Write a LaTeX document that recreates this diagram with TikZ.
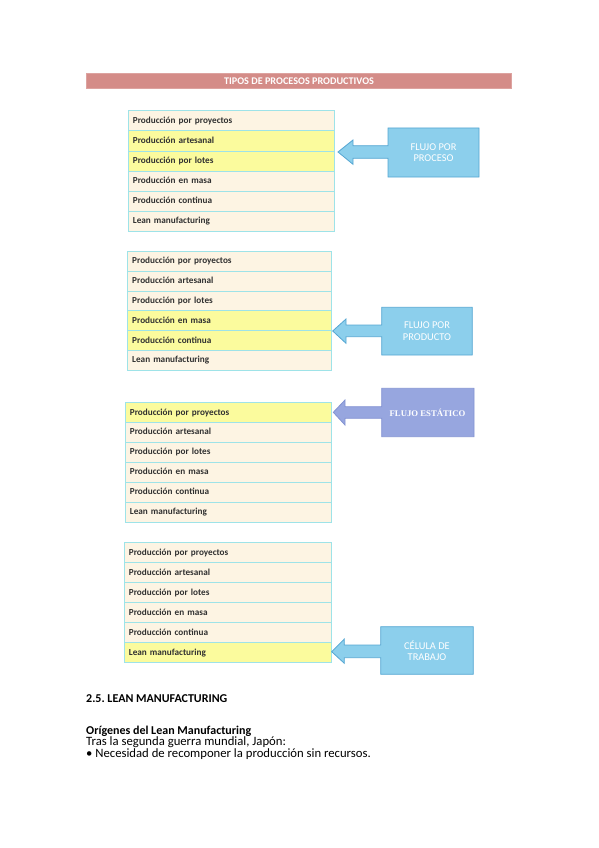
\documentclass[tikz,border=0pt]{standalone}
\usepackage{fontspec}
\setmainfont{Carlito}
\newfontfamily\serifbold{Liberation Serif}
\frenchspacing
\definecolor{cream}{HTML}{FDF4E3}
\definecolor{hl}{HTML}{FBFB9D}
\definecolor{cellline}{HTML}{9EE3E8}
\definecolor{txtgray}{HTML}{303030}
\definecolor{titlebar}{HTML}{D48C88}
\definecolor{skyfill}{HTML}{8CCFEC}
\definecolor{skyline}{HTML}{55A6D2}
\definecolor{lavfill}{HTML}{97A6DF}
\definecolor{lavline}{HTML}{8393D2}
\tikzset{
  rowcell/.style={draw=cellline, line width=0.8pt, fill=cream, anchor=north west,
    minimum height=20pt, inner xsep=4.5pt, inner ysep=0pt, text width=#1,
    text height=6.5pt, text depth=1.9pt, align=left, text=txtgray,
    font=\fontsize{9.2}{11}\selectfont\bfseries},
  hlcell/.style={rowcell=#1, fill=hl},
  callout/.style={fill=skyfill, draw=skyline, line width=0.8pt, line join=miter},
  callouttext/.style={text=white, align=center, font=\fontsize{10.4}{11.6}\selectfont, inner sep=0pt},
  bodytext/.style={anchor=base west, inner sep=0pt, text=black, font=\fontsize{12.7}{12}\selectfont},
  bodyhead/.style={bodytext, font=\fontsize{12}{12}\selectfont\bfseries}
}
\begin{document}
\begin{tikzpicture}[x=1pt,y=-1pt]
\useasboundingbox (0,0) rectangle (599,848);
% title bar
\node[fill=titlebar, draw=titlebar!80!white, line width=0.5pt, minimum width=425pt, minimum height=15pt, inner sep=0pt, anchor=north west,
  text=white, font=\fontsize{10.2}{11}\selectfont\bfseries] (title) at (86.3,73.5) {TIPOS DE PROCESOS PRODUCTIVOS};

% ---------- table 1 ----------
\node[rowcell=197pt] (a1) at (128,110.5) {Producción por proyectos};
\node[hlcell=197pt]  (a2) at (128,130.5) {Producción artesanal};
\node[hlcell=197pt]  (a3) at (128,150.5) {Producción por lotes};
\node[rowcell=197pt] (a4) at (128,170.5) {Producción en masa};
\node[rowcell=197pt] (a5) at (128,190.5) {Producción continua};
\node[rowcell=197pt] (a6) at (128,210.5) {Lean manufacturing};
\draw[callout] (479,128) -- (388,128) -- (388,145.7) -- (353,145.7) -- (353,140) -- (338,152)
  -- (353,164.3) -- (353,158.3) -- (388,158.3) -- (388,177) -- (479,177) -- cycle;
\node[callouttext] (c1) at (433.5,152.5) {FLUJO POR\\PROCESO};

% ---------- table 2 ----------
\node[rowcell=194.4pt] (b1) at (127.3,250.7) {Producción por proyectos};
\node[rowcell=194.4pt] (b2) at (127.3,270.6) {Producción artesanal};
\node[rowcell=194.4pt] (b3) at (127.3,290.5) {Producción por lotes};
\node[hlcell=194.4pt]  (b4) at (127.3,310.4) {Producción en masa};
\node[hlcell=194.4pt]  (b5) at (127.3,330.3) {Producción continua};
\node[rowcell=194.4pt] (b6) at (127.3,350.2) {Lean manufacturing};
\draw[callout] (472.3,307.3) -- (381.7,307.3) -- (381.7,325) -- (346,325) -- (346,319) -- (332.7,331)
  -- (346,343.3) -- (346,336.7) -- (381.7,336.7) -- (381.7,355) -- (472.3,355) -- cycle;
\node[callouttext] (c2) at (427,331.2) {FLUJO POR\\PRODUCTO};

% ---------- table 3 ----------
\node[hlcell=197pt]  (d1) at (125,402.3) {Producción por proyectos};
\node[rowcell=197pt] (d2) at (125,422.2) {Producción artesanal};
\node[rowcell=197pt] (d3) at (125,442.1) {Producción por lotes};
\node[rowcell=197pt] (d4) at (125,462.0) {Producción en masa};
\node[rowcell=197pt] (d5) at (125,481.9) {Producción continua};
\node[rowcell=197pt] (d6) at (125,501.8) {Lean manufacturing};
\draw[callout, fill=lavfill, draw=lavline] (474,388.3) -- (381.7,388.3) -- (381.7,406.7) -- (345,406.7) -- (345,400) -- (333.3,412.3)
  -- (345,425) -- (345,418.3) -- (381.7,418.3) -- (381.7,436.7) -- (474,436.7) -- cycle;
\node[callouttext, font=\serifbold\fontsize{8.7}{10}\selectfont\bfseries] (c3) at (427.5,412.5) {FLUJO ESTÁTICO};

% ---------- table 4 ----------
\node[rowcell=198pt] (e1) at (124,542.3) {Producción por proyectos};
\node[rowcell=198pt] (e2) at (124,562.3) {Producción artesanal};
\node[rowcell=198pt] (e3) at (124,582.3) {Producción por lotes};
\node[rowcell=198pt] (e4) at (124,602.3) {Producción en masa};
\node[rowcell=198pt] (e5) at (124,622.3) {Producción continua};
\node[hlcell=198pt]  (e6) at (124,642.3) {Lean manufacturing};
\draw[callout] (473.3,626.7) -- (380.7,626.7) -- (380.7,645) -- (344.3,645) -- (344.3,639) -- (331.7,651.7)
  -- (344.3,663.3) -- (344.3,657.7) -- (380.7,657.7) -- (380.7,674.3) -- (473.3,674.3) -- cycle;
\node[callouttext] (c4) at (427,650.8) {CÉLULA DE\\TRABAJO};

% ---------- body text ----------
\node[bodyhead] (h1) at (86,702.7) {2.5. LEAN MANUFACTURING};
\node[bodyhead] (h2) at (86,734) {Orígenes del Lean Manufacturing};
\node[bodytext] (p1) at (86,745.7) {Tras la segunda guerra mundial, Japón:};
\node[bodytext] (p2) at (86,757.3) {• Necesidad de recomponer la producción sin recursos.};
\end{tikzpicture}
\end{document}
